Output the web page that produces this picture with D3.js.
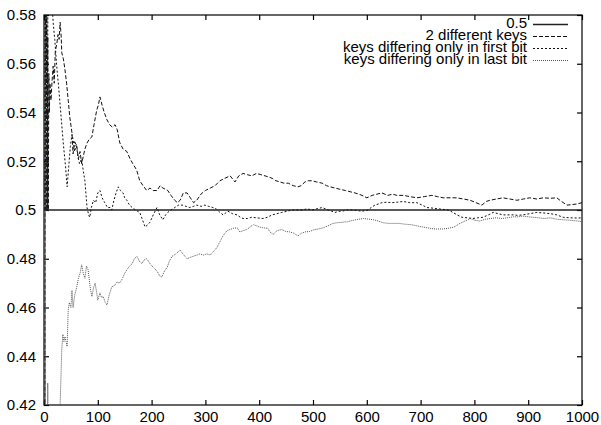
<!DOCTYPE html>
<html>
<head>
<meta charset="utf-8">
<script src="https://cdnjs.cloudflare.com/ajax/libs/d3/7.8.5/d3.min.js"></script>
<style>
body { margin: 0; background: #fff; }
text { font-family: "Liberation Sans", Arial, sans-serif; }
</style>
</head>
<body>
<div id="chart-area"></div>
<script>
// data: [x, running fraction]
var xTicks = [0, 100, 200, 300, 400, 500, 600, 700, 800, 900, 1000];
var yTicks = [0.42, 0.44, 0.46, 0.48, 0.5, 0.52, 0.54, 0.56, 0.58];
var seriesNames = ["0.5", "2 different keys", "keys differing only in first bit", "keys differing only in last bit"];

var halfLine = [[0, 0.5], [1000, 0.5]];

var diffKeys = [[1,0],[2,0.5],[3,0.667],[4,0.5],[5,0.6],[6,0.5],[7,0.571],[8,0.5],[9,0.556],[10,0.54],[11,0.552],[13,0.545],[15,0.553],[17,0.559],[19,0.552],[21,0.565],[24,0.5685],[26,0.572],[28,0.57],[30,0.577],[32,0.571],[33,0.5645],[36,0.562],[39,0.5575],[42,0.552],[45,0.545],[48,0.538],[52,0.5316],[54,0.523],[57,0.528],[61,0.526],[64,0.521],[67,0.524],[70,0.519],[73,0.522],[76,0.525],[80,0.5275],[84,0.529],[89,0.53],[93,0.535],[98,0.541],[101,0.543],[104,0.5464],[108,0.543],[112,0.54],[117,0.537],[122,0.535],[127,0.534],[132,0.535],[136,0.533],[141,0.5275],[147,0.525],[154,0.524],[160,0.521],[165,0.519],[172,0.5165],[178,0.512],[184,0.51],[191,0.508],[197,0.509],[203,0.508],[210,0.508],[216,0.51],[221,0.509],[230,0.508],[236,0.506],[243,0.504],[248,0.503],[253,0.504],[259,0.507],[266,0.507],[272,0.505],[278,0.503],[284,0.504],[290,0.506],[294,0.507],[300,0.508],[309,0.509],[318,0.51],[327,0.512],[336,0.513],[346,0.514],[355,0.5115],[362,0.514],[370,0.515],[378,0.5145],[386,0.514],[395,0.515],[403,0.5145],[411,0.514],[418,0.5135],[424,0.513],[431,0.512],[439,0.5115],[446,0.511],[454,0.511],[463,0.51],[472,0.5095],[478,0.51],[485,0.5115],[491,0.512],[498,0.512],[507,0.5115],[517,0.511],[525,0.51],[532,0.5095],[541,0.509],[550,0.5085],[560,0.508],[569,0.5075],[578,0.507],[585,0.5065],[591,0.506],[600,0.505],[610,0.506],[619,0.5065],[628,0.507],[639,0.506],[648,0.5065],[656,0.506],[668,0.506],[680,0.5055],[693,0.505],[707,0.5055],[721,0.506],[731,0.5055],[742,0.505],[755,0.505],[767,0.505],[780,0.5045],[792,0.504],[803,0.503],[814,0.502],[822,0.5035],[829,0.504],[841,0.5045],[853,0.505],[866,0.5045],[879,0.504],[891,0.5045],[903,0.505],[916,0.5045],[928,0.505],[941,0.5048],[953,0.505],[962,0.5035],[972,0.502],[981,0.5022],[991,0.5025],[1000,0.503]];

var firstBit = [[1,1],[2,0.5],[3,0.667],[4,0.75],[5,0.6],[6,0.5],[7,0.571],[8,0.625],[9,0.667],[10,0.6],[11,0.636],[12,0.583],[13,0.615],[14,0.6],[15,0.585],[17,0.577],[20,0.57],[24,0.558],[27,0.551],[30,0.543],[33,0.535],[36,0.527],[40,0.518],[43,0.5095],[46,0.518],[49,0.526],[52,0.531],[54,0.529],[57,0.524],[60,0.527],[63,0.522],[66,0.519],[70,0.521],[73,0.516],[76,0.512],[80,0.501],[83,0.498],[85,0.497],[88,0.501],[92,0.504],[96,0.503],[100,0.507],[104,0.508],[108,0.505],[113,0.503],[118,0.501],[123,0.501],[126,0.5],[130,0.504],[134,0.507],[138,0.5095],[142,0.508],[147,0.507],[150,0.505],[154,0.504],[159,0.502],[164,0.501],[170,0.5],[178,0.499],[183,0.496],[188,0.493],[193,0.494],[197,0.495],[203,0.498],[210,0.501],[215,0.498],[221,0.496],[226,0.498],[230,0.499],[236,0.5],[243,0.501],[250,0.502],[258,0.502],[264,0.5015],[271,0.501],[278,0.5015],[284,0.502],[292,0.5015],[299,0.502],[306,0.5015],[314,0.501],[320,0.5005],[327,0.499],[333,0.498],[342,0.4995],[350,0.4985],[359,0.498],[365,0.497],[370,0.4965],[378,0.4965],[386,0.497],[395,0.4968],[407,0.4965],[415,0.497],[424,0.498],[433,0.4985],[442,0.499],[452,0.4995],[461,0.5],[470,0.5],[480,0.5],[489,0.5005],[498,0.5],[507,0.5005],[517,0.501],[528,0.5],[535,0.4995],[541,0.499],[548,0.4995],[554,0.4995],[563,0.5],[572,0.5],[582,0.4998],[591,0.4995],[602,0.5],[608,0.501],[615,0.502],[622,0.5025],[628,0.503],[637,0.5032],[647,0.503],[656,0.5032],[668,0.5035],[680,0.503],[693,0.503],[703,0.502],[712,0.501],[721,0.5008],[731,0.5005],[741,0.5003],[751,0.5],[756,0.4995],[760,0.499],[768,0.498],[777,0.497],[787,0.4968],[797,0.4965],[806,0.4968],[816,0.497],[826,0.498],[835,0.499],[844,0.4985],[853,0.498],[862,0.498],[872,0.498],[881,0.4978],[890,0.498],[903,0.4985],[916,0.499],[928,0.4988],[941,0.4985],[953,0.498],[965,0.497],[978,0.4968],[991,0.4967],[1000,0.4968]];

var lastBit = [[1,0],[2,0.5],[3,0.333],[4,0.25],[5,0.4],[6,0.333],[7,0.429],[8,0.375],[10,0.4],[12,0.417],[14,0.357],[16,0.375],[18,0.389],[20,0.4],[22,0.39],[24,0.38],[26,0.385],[28,0.4],[30,0.42],[32,0.435],[33,0.4425],[35,0.449],[37,0.446],[39,0.448],[41,0.446],[43,0.444],[45,0.459],[47,0.462],[50,0.46],[52,0.467],[54,0.46],[57,0.465],[61,0.4685],[64,0.472],[67,0.474],[70,0.4775],[73,0.474],[76,0.472],[79,0.477],[82,0.4755],[86,0.468],[89,0.4645],[92,0.468],[95,0.47],[98,0.466],[100,0.463],[104,0.466],[107,0.464],[110,0.4645],[114,0.462],[117,0.461],[121,0.465],[126,0.4685],[131,0.469],[136,0.4705],[140,0.47],[145,0.4715],[150,0.474],[154,0.4755],[159,0.477],[164,0.478],[168,0.48],[173,0.481],[177,0.479],[182,0.478],[186,0.4795],[191,0.48],[197,0.478],[203,0.4765],[210,0.475],[215,0.473],[219,0.4725],[224,0.475],[229,0.4765],[233,0.479],[238,0.481],[245,0.482],[253,0.4835],[260,0.4815],[266,0.48],[271,0.4805],[277,0.481],[284,0.4815],[290,0.482],[296,0.4815],[303,0.482],[309,0.4815],[315,0.483],[321,0.4845],[327,0.487],[333,0.4895],[340,0.4915],[346,0.492],[352,0.4925],[359,0.4927],[364,0.491],[370,0.4915],[377,0.492],[383,0.493],[389,0.494],[395,0.4935],[401,0.493],[407,0.4927],[416,0.4925],[420,0.491],[426,0.49],[433,0.4915],[442,0.492],[449,0.4912],[457,0.491],[464,0.4905],[472,0.4894],[479,0.4905],[485,0.491],[494,0.4912],[503,0.492],[510,0.4922],[519,0.4927],[528,0.4935],[537,0.4945],[546,0.4948],[556,0.495],[565,0.4952],[575,0.4958],[584,0.4962],[594,0.4965],[602,0.4963],[612,0.496],[621,0.4955],[630,0.4948],[640,0.4945],[650,0.4945],[660,0.4945],[670,0.4942],[682,0.494],[693,0.4935],[705,0.493],[717,0.4925],[728,0.4922],[740,0.4922],[752,0.4925],[762,0.493],[773,0.4945],[783,0.4955],[792,0.4965],[801,0.4958],[810,0.4955],[820,0.4962],[830,0.4965],[840,0.4968],[851,0.4965],[861,0.4968],[872,0.4972],[881,0.4972],[890,0.4975],[900,0.4972],[910,0.497],[920,0.4968],[930,0.4965],[941,0.4968],[953,0.4962],[965,0.496],[978,0.4958],[991,0.4955],[1000,0.4952]];

var margin = {left:44, right:19, top:15, bottom:20},
	width = 601 - margin.left - margin.right,
	height = 425 - margin.top - margin.bottom;

var svg = d3.select("#chart-area")
	.append("svg")
		.attr("width", 601)
		.attr("height", 425);
var g = svg.append("g")
	.attr("transform", "translate(" + margin.left + "," + margin.top + ")");

// scales
var x = d3.scaleLinear().domain([0, 1000]).range([0, width]);
var y = d3.scaleLinear().domain([0.42, 0.58]).range([height, 0]);

g.append("clipPath").attr("id", "plot-clip")
	.append("rect").attr("width", width).attr("height", height);

// axes, ticks point inwards on all four sides
var fmt = d => String(d);
var xAxis = g.append("g")
	.attr("transform", "translate(0," + height + ")")
	.call(d3.axisBottom(x).tickValues(xTicks).tickFormat(fmt).tickSizeInner(-5).tickSizeOuter(0).tickPadding(6));
var xTop = g.append("g")
	.call(d3.axisTop(x).tickValues(xTicks).tickFormat("").tickSizeInner(-5).tickSizeOuter(0));
var yAxis = g.append("g")
	.call(d3.axisLeft(y).tickValues(yTicks).tickFormat(fmt).tickSizeInner(-5).tickSizeOuter(0).tickPadding(8));
var yRight = g.append("g")
	.attr("transform", "translate(" + width + ",0)")
	.call(d3.axisRight(y).tickValues(yTicks).tickFormat("").tickSizeInner(-5).tickSizeOuter(0));

g.selectAll(".domain").remove();
g.selectAll(".tick line").attr("stroke", "#000").attr("stroke-width", 1.2);
g.selectAll(".tick text").attr("fill", "#000").style("font-size", "15px");

// frame
g.append("rect")
	.attr("x", 0).attr("y", 0)
	.attr("width", width).attr("height", height)
	.attr("fill", "none")
	.attr("stroke", "#000")
	.attr("stroke-width", 1.2);

var line = d3.line()
	.x(d => x(d[0]))
	.y(d => y(d[1]));

var styles = [
	{data: halfLine, color: "#222", w: 1.4, dash: null},
	{data: diffKeys, color: "#111", w: 1, dash: "4,2"},
	{data: firstBit, color: "#111", w: 1, dash: "2,2"},
	{data: lastBit, color: "#555", w: 1, dash: "1,1"}
];

var lines = g.append("g").attr("clip-path", "url(#plot-clip)");
styles.forEach(s => {
	lines.append("path")
		.attr("fill", "none")
		.attr("stroke", s.color)
		.attr("stroke-width", s.w)
		.attr("stroke-dasharray", s.dash)
		.attr("d", line(s.data));
});

// legend, top right
var legend = svg.append("g");
seriesNames.forEach((name, i) => {
	var by = 27.5 + i * 12;
	legend.append("text")
		.attr("x", 527).attr("y", by)
		.attr("text-anchor", "end")
		.style("font-size", "15px")
		.attr("fill", "#000")
		.text(name);
	legend.append("line")
		.attr("x1", 533).attr("x2", 568)
		.attr("y1", by - 3).attr("y2", by - 3)
		.attr("stroke", styles[i].color)
		.attr("stroke-width", styles[i].w)
		.attr("stroke-dasharray", styles[i].dash);
});
</script>
</body>
</html>
